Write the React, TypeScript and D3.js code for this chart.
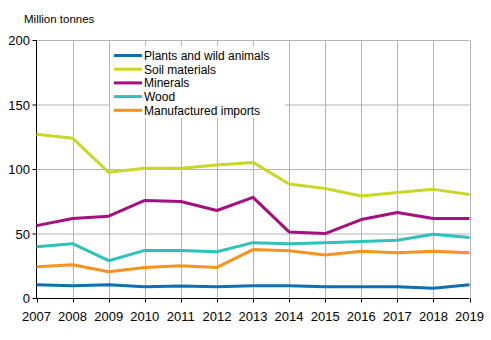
import React from "react";
import * as d3 from "d3";

const years = [2007, 2008, 2009, 2010, 2011, 2012, 2013, 2014, 2015, 2016, 2017, 2018, 2019];
const plants = [10.6, 9.9, 10.6, 9.1, 9.6, 9.1, 9.9, 9.9, 9.1, 9.1, 9.1, 8.0, 10.6];
const soil = [127.3, 124.3, 97.8, 100.9, 101, 103.5, 105.5, 88.7, 85.3, 79.4, 82.2, 84.6, 80.7];
const minerals = [56.5, 62, 63.8, 76, 75.2, 68.2, 78.4, 51.6, 50.3, 61.2, 66.7, 62, 62];
const wood = [40.2, 42.5, 29.3, 37.3, 37.3, 36.3, 43.3, 42.5, 43.3, 44.1, 45.1, 49.8, 47.2];
const manufactured = [24.6, 26.2, 20.7, 24.1, 25.4, 24.1, 37.9, 37.1, 33.7, 36.6, 35.5, 36.6, 35.5];
const yTicks = [0, 50, 100, 150, 200];

const seriesNames = ["Plants and wild animals", "Soil materials", "Minerals", "Wood", "Manufactured imports"];
const seriesColors = ["#0f6fb0", "#c8d72a", "#a4107f", "#2fc2b9", "#f7931e"];
const seriesValues = [plants, soil, minerals, wood, manufactured];

export default function App() {
  const W = 491, H = 340;
  const left = 36.5, right = 469.5, top = 40.5, bottom = 298.5;
  const x = d3.scaleLinear().domain([2007, 2019]).range([left, right]);
  const y = d3.scaleLinear().domain([0, 200]).range([bottom, top]);
  const line = d3.line<[number, number]>().x(d => x(d[0])).y(d => y(d[1]));
  const font = "Arial, 'Liberation Sans', sans-serif";
  const order = [1, 2, 3, 4, 0];
  return (
    <svg width={W} height={H} style={{ position: "absolute", left: 0, top: 0, background: "#fff" }} fontFamily={font}>
      <text x={24} y={23} fontSize={11.5} fill="#000">Million tonnes</text>
      {yTicks.filter(t => t > 0).map(t => (
        <line key={"h" + t} x1={left} x2={right} y1={y(t)} y2={y(t)} stroke="#b4b4b4" strokeWidth={1} />
      ))}
      {years.slice(1).map(yr => (
        <line key={"v" + yr} x1={Math.round(x(yr)) + 0.5} x2={Math.round(x(yr)) + 0.5} y1={top} y2={bottom} stroke="#b4b4b4" strokeWidth={1} />
      ))}
      <line x1={left} x2={left} y1={top} y2={bottom} stroke="#000" strokeWidth={1} />
      <line x1={left} x2={right} y1={bottom} y2={bottom} stroke="#000" strokeWidth={1} />
      {yTicks.map(t => (
        <g key={"yt" + t}>
          <line x1={left - 4} x2={left} y1={y(t)} y2={y(t)} stroke="#000" />
          <text x={30} y={y(t) + 4.5} textAnchor="end" fontSize={13} fill="#000">{t}</text>
        </g>
      ))}
      {years.map(yr => (
        <g key={"xt" + yr}>
          <line x1={Math.round(x(yr)) + 0.5} x2={Math.round(x(yr)) + 0.5} y1={bottom} y2={bottom + 4} stroke="#000" />
          <text x={x(yr)} y={321} textAnchor="middle" fontSize={13} fill="#000">{yr}</text>
        </g>
      ))}
      <rect x={110} y={46} width={175} height={72} fill="#fff" />
      {seriesNames.map((n, i) => (
        <g key={"lg" + n}>
          <line x1={114} x2={142} y1={55.5 + i * 13.7} y2={55.5 + i * 13.7} stroke={seriesColors[i]} strokeWidth={3} />
          <text x={144} y={55.5 + i * 13.7 + 4.5} fontSize={12} fill="#000">{n}</text>
        </g>
      ))}
      {order.map(i => (
        <path key={"s" + i} d={line(years.map((yr, j) => [yr, seriesValues[i][j]] as [number, number])) || ""}
          fill="none" stroke={seriesColors[i]} strokeWidth={3} strokeLinejoin="round" />
      ))}
    </svg>
  );
}
